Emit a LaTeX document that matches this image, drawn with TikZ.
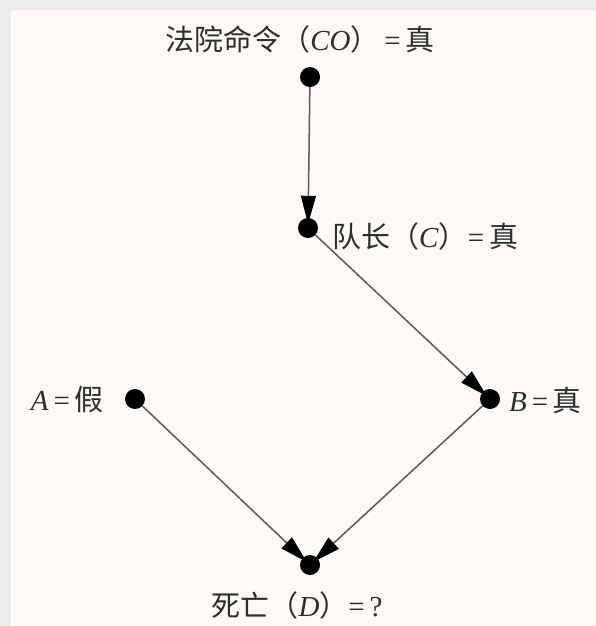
\documentclass[tikz,border=0pt]{standalone}
\usepackage{fontspec}
\usepackage{tikz}
\usetikzlibrary{arrows.meta,positioning}
\setmainfont{Liberation Serif}
\newfontfamily\cjk{Noto Sans CJK SC}
\definecolor{paperbg}{HTML}{FDF9F5}
\definecolor{framegray}{HTML}{EBEBEB}
\definecolor{inkgray}{HTML}{2E2E2E}
\definecolor{linegray}{HTML}{5A5A5A}

\begin{document}
\begin{tikzpicture}[
  x=1pt, y=-1pt,
  event/.style={
    circle,
    fill=black,
    inner sep=0pt,
    minimum size=20pt
  },
  cause/.style={-{Triangle[length=28pt,width=15pt,fill=black,color=black]}, line width=1.5pt, draw=linegray, shorten >=-6pt},
  tag/.style={
    font=\fontsize{29}{33}\selectfont,
    text=inkgray,
    inner sep=0pt
  }
]

% frame and paper
\fill[framegray] (0,0) rectangle (596,626);
\fill[paperbg] (11,10) rectangle (596,626);
\useasboundingbox (0,0) rectangle (596,626);

\node[event] (co) at (310,77) {};
\node[event] (c) at (308,228) {};
\node[event] (a) at (135,399) {};
\node[event] (b) at (490,399) {};
\node[event] (d) at (310,565) {};

\node[tag] (colabel) at (300,39) {{\cjk 法院命令（}\textit{CO}{\cjk ）}\,=\,{\cjk 真}};
\node[tag, anchor=west] (clabel) at (332,236) {{\cjk 队长（}\textit{C}{\cjk ）}=\,{\cjk 真}};
\node[tag, anchor=east] (alabel) at (104,400) {\textit{A}\,=\,{\cjk 假}};
\node[tag, anchor=west] (blabel) at (509,400) {\textit{B}\,=\,{\cjk 真}};
\node[tag] (dlabel) at (297,605) {{\cjk 死亡（}\textit{D}{\cjk ）}=\,?};

\draw[cause] (co) -- (c);
\draw[cause] (c) -- (b);
\draw[cause] (a) -- (d);
\draw[cause] (b) -- (d);

\end{tikzpicture}
\end{document}
